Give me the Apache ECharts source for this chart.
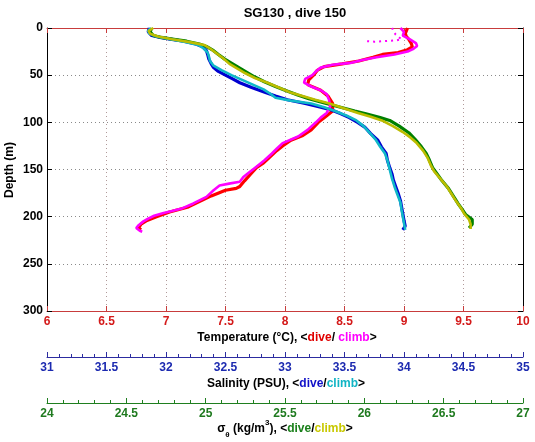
<!DOCTYPE html>
<html><head><meta charset="utf-8">
<script src="https://cdn.jsdelivr.net/npm/echarts@6/dist/echarts.min.js"></script>
<style>html,body{margin:0;padding:0;background:#fff}#c{width:535px;height:442px}</style>
</head><body><div id="c"></div>
<script>
// ---- data (depth in m) ----
const depthTempDive = [0,3,6,9,12,16,18,20,23,26,28,31,35,38,41,45,50,55,60,66,72,80,88,94,100,108,114,119,125,130,137,143,148,155,162,168,170,172,178,184,190,195,200,204,208,212,214];
const tempDive      = [9.03,9.02,9.01,9.02,9.04,9.06,9.07,9.07,9.03,8.95,8.82,8.74,8.62,8.48,8.33,8.27,8.24,8.20,8.19,8.30,8.36,8.40,8.40,8.34,8.28,8.22,8.15,8.05,7.98,7.93,7.87,7.82,7.76,7.71,7.66,7.62,7.59,7.50,7.38,7.28,7.18,7.03,6.92,6.84,6.79,6.77,6.79];
// sparse near-surface samples (dotted in the reference)
const depthTempSparse = [14,14.5,14,13.5,13,12,10,7,3,0];
const tempSparse      = [8.69,8.75,8.82,8.88,8.94,8.98,8.96,8.93,8.91,8.90];
const depthTempClimb = [0,4,8,12,16,19,22,25,28,31,34,37,39,42,46,50,54,58,62,66,70,76,83,90,95,100,108,115,122,128,133,140,147,153,158,163,165,167,172,179,186,191,194,196,199,202,205,209,212,215,216];
const tempClimb      = [8.97,9.00,8.99,9.05,9.10,9.11,9.08,9.03,8.92,8.77,8.65,8.55,8.40,8.30,8.26,8.23,8.17,8.16,8.22,8.30,8.35,8.37,8.38,8.35,8.30,8.26,8.19,8.11,7.98,7.93,7.89,7.83,7.76,7.70,7.65,7.62,7.53,7.45,7.40,7.34,7.23,7.14,7.05,6.98,6.90,6.85,6.81,6.77,6.75,6.78,6.80];

const depthSalDive = [0,4,8,10,12,14,17,20,24,28,33,38,42,46,50,54,58,63,68,72,76,80,84,87,91,95,100,105,112,119,126,133,140,148,155,161,168,175,183,190,197,204,210,214];
const salDive      = [31.86,31.85,31.88,31.95,32.05,32.15,32.25,32.31,32.34,32.35,32.36,32.38,32.40,32.44,32.50,32.56,32.62,32.72,32.83,32.92,33.02,33.17,33.30,33.39,33.47,33.54,33.61,33.67,33.72,33.78,33.81,33.85,33.86,33.88,33.90,33.91,33.93,33.95,33.97,33.98,33.99,34.00,34.01,33.99];
const depthSalClimb = [0,3,6,9,12,15,18,22,26,30,35,40,45,50,55,60,65,70,74,77,80,84,88,93,98,104,111,118,126,133,140,150,160,168,175,185,193,200,207,214];
const salClimb      = [31.87,31.85,31.86,31.92,32.04,32.17,32.27,32.32,32.35,32.36,32.37,32.40,32.47,32.55,32.64,32.73,32.82,32.88,32.92,33.05,33.22,33.33,33.42,33.52,33.60,33.66,33.71,33.76,33.80,33.84,33.86,33.88,33.90,33.92,33.94,33.97,33.98,33.99,34.00,34.01];

const depthSigDive = [0,4,8,10,12,14,17,20,24,28,33,38,43,48,52,57,62,66,71,75,80,84,88,91,95,98,104,111,118,126,133,140,148,155,162,170,178,186,193,198,203,208,212];
const sigDive      = [24.66,24.65,24.67,24.72,24.80,24.88,24.96,25.01,25.05,25.08,25.12,25.17,25.22,25.27,25.31,25.37,25.44,25.50,25.58,25.65,25.76,25.85,25.94,26.01,26.10,26.16,26.22,26.28,26.32,26.36,26.39,26.41,26.43,26.46,26.49,26.53,26.56,26.59,26.62,26.64,26.68,26.68,26.66];
const depthSigClimb = [0,3,6,9,12,15,18,22,27,32,38,43,48,53,58,63,68,72,76,80,85,90,94,98,104,110,116,122,130,138,146,152,160,168,176,184,191,197,203,208,213];
const sigClimb      = [24.67,24.64,24.65,24.70,24.79,24.90,24.99,25.03,25.07,25.11,25.15,25.20,25.25,25.31,25.39,25.46,25.53,25.61,25.69,25.78,25.87,25.96,26.04,26.11,26.18,26.24,26.29,26.33,26.37,26.40,26.42,26.44,26.48,26.52,26.55,26.58,26.61,26.63,26.66,26.67,26.67];

const depthTicks = [0,50,100,150,200,250,300];
const tempRange = [6,10], salRange = [31,35], sigRange = [24,27];

// ---- styling ----
const FONT = '"Liberation Sans", Arial, Helvetica, sans-serif';
const L = 47, W = 476, T = 28, H = 283;
const RED_AX = '#c83c3c', RED_LBL = '#d41a1a';
const BLUE_AX = '#2c2ca0', BLUE_LBL = '#1c2ab0';
const GRN_AX = '#1f7f1f', GRN_LBL = '#1f7a1f';

function pairs(xs, ys){ return xs.map((x,i)=>[x, ys[i]]); }
function lbl(color){ return {color:color, fontWeight:'bold', fontSize:12, fontFamily:FONT, margin:5}; }

const chart = echarts.init(document.getElementById('c'), null, {renderer:'canvas'});
const option = {
  animation:false,
  backgroundColor:'#fff',
  grid:[
    {left:L, top:T, width:W, height:H},
    {left:L, top:356, width:W, height:1},
    {left:L, top:402, width:W, height:1}
  ],
  xAxis:[
    {gridIndex:0, type:'value', position:'bottom', min:tempRange[0], max:tempRange[1], interval:0.5,
     axisLine:{onZero:false, lineStyle:{color:RED_AX}}, axisTick:{inside:true, length:5, lineStyle:{color:RED_AX}},
     axisLabel:lbl(RED_LBL),
     splitLine:{show:true, showMinLine:false, showMaxLine:false, lineStyle:{type:[1,3], color:'#b09a9a'}}},
    {gridIndex:0, type:'value', position:'top', min:tempRange[0], max:tempRange[1], interval:0.5,
     axisLine:{onZero:false, lineStyle:{color:RED_AX}}, axisTick:{inside:true, length:5, lineStyle:{color:RED_AX}},
     axisLabel:{show:false}, splitLine:{show:false}},
    {gridIndex:0, type:'value', show:false, position:'bottom', min:salRange[0], max:salRange[1], axisLine:{onZero:false}, splitLine:{show:false}},
    {gridIndex:0, type:'value', show:false, position:'bottom', min:sigRange[0], max:sigRange[1], axisLine:{onZero:false}, splitLine:{show:false}},
    {gridIndex:1, type:'value', position:'bottom', min:salRange[0], max:salRange[1], interval:0.5,
     axisLine:{onZero:false, lineStyle:{color:BLUE_AX}}, axisTick:{inside:true, length:5, lineStyle:{color:BLUE_AX}},
     minorTick:{show:true, splitNumber:5, length:3, lineStyle:{color:BLUE_AX}},
     axisLabel:lbl(BLUE_LBL), splitLine:{show:false}},
    {gridIndex:2, type:'value', position:'bottom', min:sigRange[0], max:sigRange[1], interval:0.5,
     axisLine:{onZero:false, lineStyle:{color:GRN_AX}}, axisTick:{inside:true, length:5, lineStyle:{color:GRN_AX}},
     minorTick:{show:true, splitNumber:5, length:3, lineStyle:{color:GRN_AX}},
     axisLabel:lbl(GRN_LBL), splitLine:{show:false}}
  ],
  yAxis:[
    {gridIndex:0, type:'value', position:'left', inverse:true, min:depthTicks[0], max:depthTicks[depthTicks.length-1], interval:50,
     axisLine:{onZero:false, lineStyle:{color:'#000'}}, axisTick:{inside:true, length:5, lineStyle:{color:'#000'}},
     axisLabel:{color:'#000', fontWeight:'bold', fontSize:12, fontFamily:FONT, margin:4},
     splitLine:{show:true, showMinLine:false, showMaxLine:false, lineStyle:{type:[1,3], color:'#8a8a8a'}}},
    {gridIndex:0, type:'value', position:'right', inverse:true, min:depthTicks[0], max:depthTicks[depthTicks.length-1], interval:50,
     axisLine:{onZero:false, lineStyle:{color:'#000'}}, axisTick:{inside:true, length:5, lineStyle:{color:'#000'}},
     axisLabel:{show:false}, splitLine:{show:false}},
    {gridIndex:1, type:'value', show:false, min:0, max:1},
    {gridIndex:2, type:'value', show:false, min:0, max:1}
  ],
  series:[
    {type:'line', xAxisIndex:0, yAxisIndex:0, data:pairs(tempSparse, depthTempSparse), symbol:'none', lineStyle:{color:'#ff00ff', width:2, type:[2,4]}, silent:true, z:2},
    {type:'line', xAxisIndex:0, yAxisIndex:0, data:pairs(tempDive, depthTempDive), symbol:'none', lineStyle:{color:'#ff0000', width:3.2}, silent:true, z:2},
    {type:'line', xAxisIndex:2, yAxisIndex:0, data:pairs(salDive, depthSalDive), symbol:'none', lineStyle:{color:'#0000d0', width:3.2}, silent:true, z:2},
    {type:'line', xAxisIndex:3, yAxisIndex:0, data:pairs(sigDive, depthSigDive), symbol:'none', lineStyle:{color:'#008000', width:3.2}, silent:true, z:2},
    {type:'line', xAxisIndex:0, yAxisIndex:0, data:pairs(tempClimb, depthTempClimb), symbol:'none', lineStyle:{color:'#ff00ff', width:2.6}, silent:true, z:3},
    {type:'line', xAxisIndex:2, yAxisIndex:0, data:pairs(salClimb, depthSalClimb), symbol:'none', lineStyle:{color:'#10b8c8', width:2.6}, silent:true, z:3},
    {type:'line', xAxisIndex:3, yAxisIndex:0, data:pairs(sigClimb, depthSigClimb), symbol:'none', lineStyle:{color:'#bcbc00', width:2.6}, silent:true, z:3}
  ],
  graphic:[
    {type:'text', x:295, y:13, style:{text:'SG130 , dive 150', font:'bold 13px '+FONT, fill:'#000', align:'center', verticalAlign:'middle', textAlign:'center', textVerticalAlign:'middle'}},
    {type:'text', x:10, y:170, rotation:Math.PI/2, style:{text:'Depth (m)', font:'bold 12px '+FONT, fill:'#000', align:'center', verticalAlign:'middle', textAlign:'center', textVerticalAlign:'middle'}},
    {type:'text', x:287, y:338, style:{text:'{a|Temperature (°C), <}{r|dive}{a|/ }{m|climb}{a|>}', align:'center', verticalAlign:'middle', textAlign:'center', textVerticalAlign:'middle',
      rich:{a:{fill:'#000', font:'bold 12px '+FONT}, r:{fill:'#e00000', font:'bold 12px '+FONT}, m:{fill:'#ff00ff', font:'bold 12px '+FONT}}}},
    {type:'text', x:286, y:384, style:{text:'{a|Salinity (PSU), <}{b|dive}{a|/}{c|climb}{a|>}', align:'center', verticalAlign:'middle', textAlign:'center', textVerticalAlign:'middle',
      rich:{a:{fill:'#000', font:'bold 12px '+FONT}, b:{fill:'#1010c8', font:'bold 12px '+FONT}, c:{fill:'#10b4c4', font:'bold 12px '+FONT}}}},
    {type:'text', x:285, y:429, style:{text:'{a|σ}{sub|θ}{a| (kg/m}{sup|3}{a|), <}{g|dive}{a|/}{y|climb}{a|>}', align:'center', verticalAlign:'middle', textAlign:'center', textVerticalAlign:'middle',
      rich:{a:{fill:'#000', font:'bold 12px '+FONT, lineHeight:20, verticalAlign:'middle'},
            sub:{fill:'#000', font:'bold 8px '+FONT, lineHeight:9, verticalAlign:'bottom'},
            sup:{fill:'#000', font:'bold 8px '+FONT, lineHeight:9, verticalAlign:'top'},
            g:{fill:'#1a801a', font:'bold 12px '+FONT, lineHeight:20, verticalAlign:'middle'},
            y:{fill:'#c8c800', font:'bold 12px '+FONT, lineHeight:20, verticalAlign:'middle'}}}}
  ]
};
chart.setOption(option);
</script>
</body></html>
